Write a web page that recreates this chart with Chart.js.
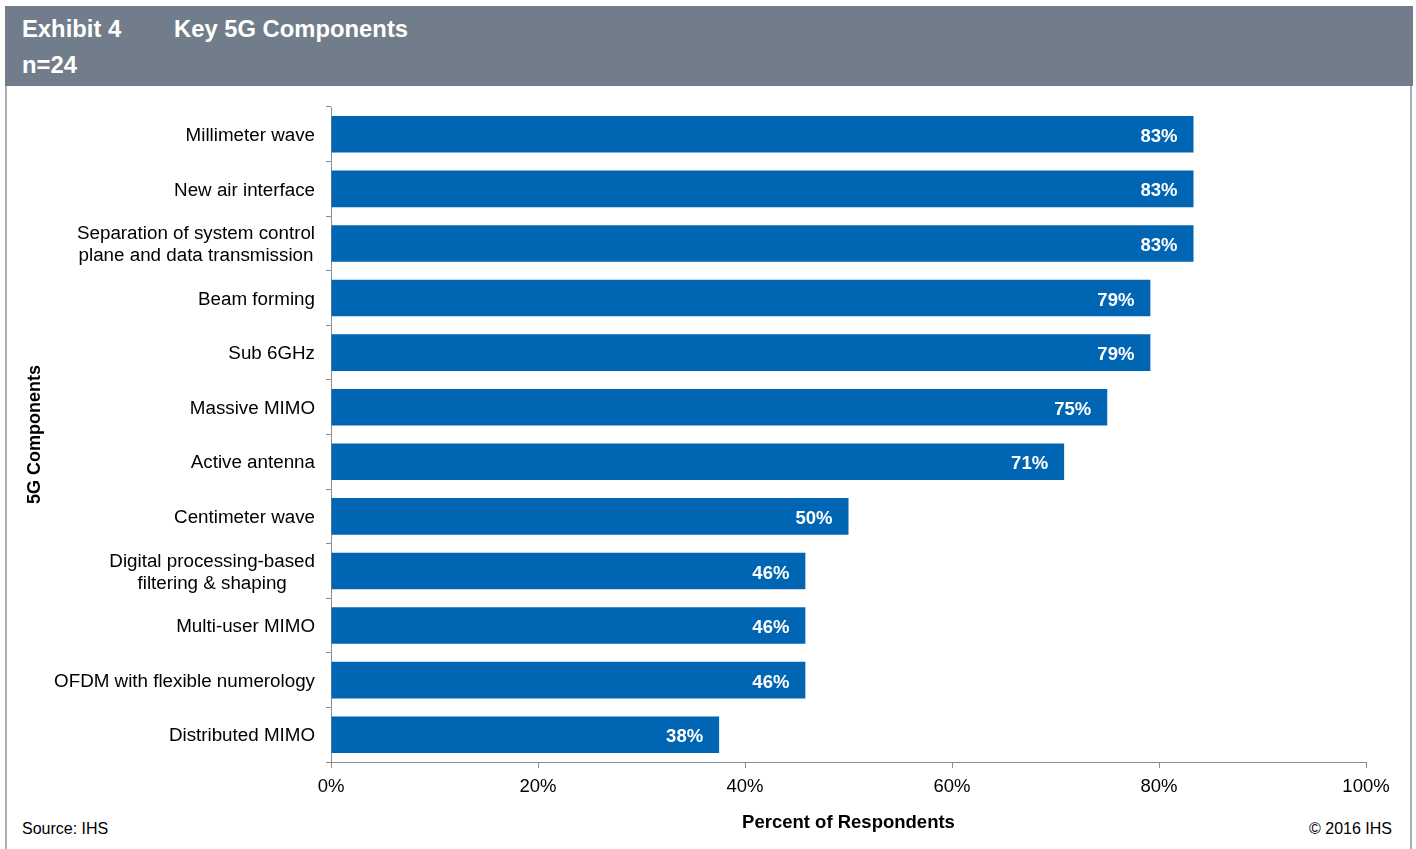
<!DOCTYPE html>
<html>
<head>
<meta charset="utf-8">
<title>Key 5G Components</title>
<script src="https://cdn.jsdelivr.net/npm/chart.js@4.4.1/dist/chart.umd.min.js"></script>
<style>
  html, body { margin: 0; padding: 0; background: #ffffff; }
  #page { position: relative; width: 1416px; height: 849px; overflow: hidden;
          font-family: "Liberation Sans", Arial, sans-serif; }
  #band { position: absolute; left: 5px; top: 6px; width: 1408px; height: 80px; background: #727d8b; }
  .hdr { position: absolute; color: #ffffff; font-weight: bold; font-size: 23.8px; white-space: nowrap; }
  .edge { position: absolute; top: 86px; width: 2px; height: 763px; background: #a7afb8; }
  .foot { position: absolute; top: 820px; font-size: 16px; color: #000000; white-space: nowrap; }
  #chart { position: absolute; left: 0; top: 0; }
</style>
</head>
<body>
<div id="page">
  <div id="band"></div>
  <div class="hdr" style="left:22px; top:15px;">Exhibit 4</div>
  <div class="hdr" style="left:174px; top:15px;">Key 5G Components</div>
  <div class="hdr" style="left:22px; top:51px;">n=24</div>
  <div class="edge" style="left:5px;"></div>
  <div class="edge" style="left:1410px;"></div>
  <div class="foot" style="left:22px;">Source: IHS</div>
  <div class="foot" style="right:24px;">© 2016 IHS</div>
  <canvas id="chart" width="1416" height="849"></canvas>
</div>
<script>
// Survey of 24 respondents: how many named each component
const respondents = 24;
const categories = [
  ['Millimeter wave'],
  ['New air interface'],
  ['Separation of system control', 'plane and data transmission'],
  ['Beam forming'],
  ['Sub 6GHz'],
  ['Massive MIMO'],
  ['Active antenna'],
  ['Centimeter wave'],
  ['Digital processing-based', 'filtering & shaping'],
  ['Multi-user MIMO'],
  ['OFDM with flexible numerology'],
  ['Distributed MIMO']
];
const counts = [20, 20, 20, 19, 19, 18, 17, 12, 11, 11, 11, 9];
const percentValues = counts.map(c => c / respondents * 100);
const xTicks = [0, 20, 40, 60, 80, 100];

const FONT = '"Liberation Sans", Arial, sans-serif';
const BAR_BLUE = '#0065b3';
const AXIS_GREY = '#8c8c8c';

// Category labels: each multi-line label is a centred block whose right edge meets the axis
const categoryLabels = {
  id: 'categoryLabels',
  afterDraw(chart) {
    const ctx = chart.ctx;
    const y = chart.scales.y;
    const right = chart.chartArea.left - 16;
    const lineH = 22;
    ctx.save();
    ctx.font = '18.8px ' + FONT;
    ctx.fillStyle = '#000000';
    ctx.textAlign = 'center';
    ctx.textBaseline = 'middle';
    categories.forEach((lines, i) => {
      const cy = y.getPixelForValue(i) + 1.5;
      const w = Math.max(...lines.map(l => ctx.measureText(l).width));
      const cx = right - w / 2;
      const top = cy - (lines.length - 1) * lineH / 2;
      lines.forEach((l, k) => ctx.fillText(l, cx, top + k * lineH));
    });
    ctx.restore();
  }
};

// Value labels inside the end of each bar
const valueLabels = {
  id: 'valueLabels',
  afterDatasetsDraw(chart) {
    const ctx = chart.ctx;
    const meta = chart.getDatasetMeta(0);
    ctx.save();
    ctx.font = 'bold 18.5px ' + FONT;
    ctx.fillStyle = '#ffffff';
    ctx.textAlign = 'right';
    ctx.textBaseline = 'middle';
    meta.data.forEach((bar, i) => {
      ctx.fillText(Math.round(percentValues[i]) + '%', bar.x - 16, bar.y + 2.5);
    });
    ctx.restore();
  }
};

new Chart(document.getElementById('chart'), {
  type: 'bar',
  data: {
    labels: categories,
    datasets: [{
      data: percentValues,
      backgroundColor: BAR_BLUE,
      borderWidth: 0,
      categoryPercentage: 1,
      barPercentage: 0.67
    }]
  },
  options: {
    indexAxis: 'y',
    responsive: false,
    animation: false,
    events: [],
    layout: { padding: { left: 0, top: 107, right: 50, bottom: 0 } },
    plugins: { legend: { display: false }, tooltip: { enabled: false } },
    scales: {
      x: {
        min: 0,
        max: 100,
        afterBuildTicks(scale) { scale.ticks = xTicks.map(v => ({ value: v })); },
        afterFit(scale) { scale.height = 87; },
        border: { display: true, color: AXIS_GREY, width: 1 },
        grid: { drawOnChartArea: false, drawTicks: true, tickLength: 6, color: AXIS_GREY },
        ticks: {
          color: '#000000',
          font: { family: FONT, size: 18.5 },
          padding: 8,
          maxRotation: 0,
          callback: v => v + '%'
        },
        title: {
          display: true,
          text: 'Percent of Respondents',
          color: '#000000',
          font: { family: FONT, size: 18.5, weight: 'bold' },
          padding: { top: 0, bottom: 15 }
        }
      },
      y: {
        afterFit(scale) { scale.width = 331; },
        border: { display: true, color: AXIS_GREY, width: 1 },
        grid: { offset: true, drawOnChartArea: false, drawTicks: true, tickLength: 5, color: AXIS_GREY },
        ticks: { display: false },
        title: {
          display: true,
          text: '5G Components',
          color: '#000000',
          font: { family: FONT, size: 18, weight: 'bold' },
          padding: { top: 24, bottom: 0 }
        }
      }
    }
  },
  plugins: [categoryLabels, valueLabels]
});
</script>
</body>
</html>
